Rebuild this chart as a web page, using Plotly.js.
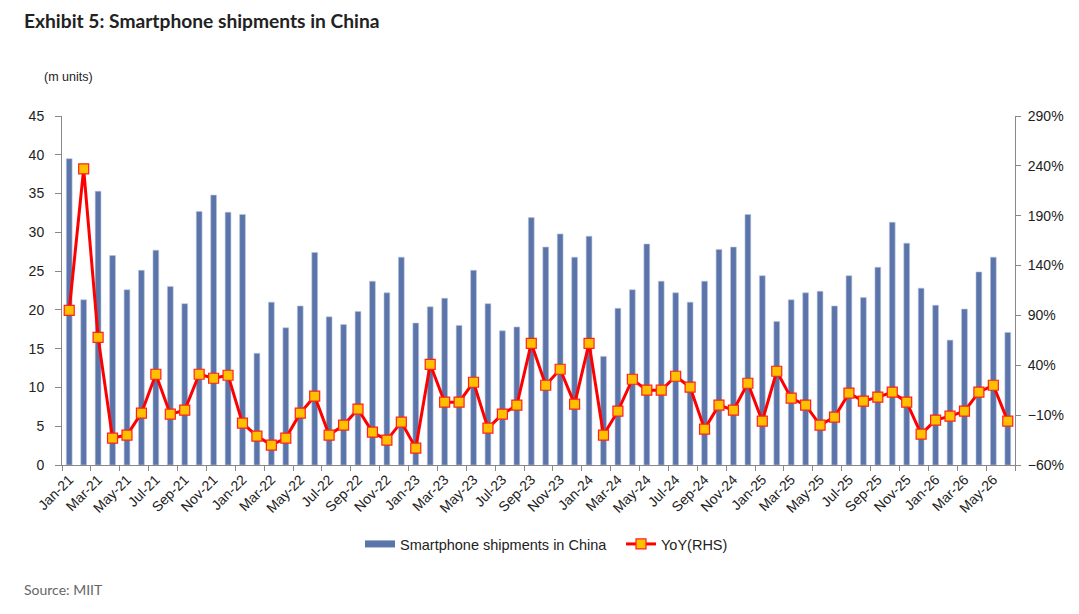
<!DOCTYPE html>
<html>
<head>
<meta charset="utf-8">
<script src="https://cdn.plot.ly/plotly-3.0.1.min.js"></script>
<style>
html,body{margin:0;padding:0;background:#fff;}
#chart{width:1079px;height:614px;}
</style>
</head>
<body>
<div id="chart"></div>
<script>
const months = [
 "Jan-21","Feb-21","Mar-21","Apr-21","May-21","Jun-21","Jul-21","Aug-21","Sep-21","Oct-21","Nov-21","Dec-21",
 "Jan-22","Feb-22","Mar-22","Apr-22","May-22","Jun-22","Jul-22","Aug-22","Sep-22","Oct-22","Nov-22","Dec-22",
 "Jan-23","Feb-23","Mar-23","Apr-23","May-23","Jun-23","Jul-23","Aug-23","Sep-23","Oct-23","Nov-23","Dec-23",
 "Jan-24","Feb-24","Mar-24","Apr-24","May-24","Jun-24","Jul-24","Aug-24","Sep-24","Oct-24","Nov-24","Dec-24",
 "Jan-25","Feb-25","Mar-25","Apr-25","May-25","Jun-25","Jul-25","Aug-25","Sep-25","Oct-25","Nov-25","Dec-25",
 "Jan-26","Feb-26","Mar-26","Apr-26","May-26","Jun-26"
];
const shipments = [
 39.5,21.3,35.3,27.0,22.6,25.1,27.7,23.0,20.8,32.7,34.8,32.6,
 32.3,14.4,21.0,17.7,20.5,27.4,19.1,18.1,19.8,23.7,22.2,26.8,
 18.3,20.4,21.5,18.0,25.1,20.8,17.3,17.8,31.9,28.1,29.8,26.8,
 29.5,14.0,20.2,22.6,28.5,23.7,22.2,21.0,23.7,27.8,28.1,32.3,
 24.4,18.5,21.3,22.2,22.4,20.5,24.4,21.6,25.5,31.3,28.6,22.8,
 20.6,16.1,20.1,24.9,26.8,17.1
];
const yoy = [
 95,237,68,-33,-30,-8,31,-9,-5,31,27,30,
 -18,-31,-40,-33,-8,9,-30,-20,-4,-27,-35,-17,
 -43,41,3,3,23,-23,-9,0,62,20,36,1,
 62,-30,-6,26,15,15,29,18,-24,0,-5,22,
 -16,34,7,0,-20,-12,12,4,8,13,3,-29,
 -15,-11,-6,13,20,-16
];
const seriesNames = ["Smartphone shipments in China", "YoY(RHS)"];

const barColor = "#5b74aa";
const axisFont = {family: "Liberation Sans, Arial, sans-serif", size: 14, color: "#222"};

const traces = [
 {
  type: "bar", name: seriesNames[0], showlegend: false,
  x: months, y: shipments,
  marker: {color: barColor, line: {color: "#b8c4de", width: 0.6}},
  yaxis: "y"
 },
 {
  // legend entry for the bars (wide bar swatch)
  type: "scatter", mode: "lines", name: seriesNames[0],
  x: [null], y: [null], yaxis: "y",
  line: {color: barColor, width: 7}
 },
 {
  type: "scatter", mode: "lines+markers", name: seriesNames[1],
  x: months, y: yoy, yaxis: "y2",
  line: {color: "#ff0000", width: 3},
  marker: {symbol: "square", size: 10, color: "#ffc000", line: {color: "#ff2020", width: 1.2}}
 }
];

const H = 614 - 116 - 149;
const layout = {
 width: 1079, height: 614,
 paper_bgcolor: "#fff", plot_bgcolor: "#fff",
 margin: {l: 62, r: 64, t: 116, b: 149},
 bargap: 0.6,
 showlegend: true,
 legend: {orientation: "h", x: (360 - 62) / 953, xanchor: "left", y: (465 - 544) / H, yanchor: "middle",
   font: {family: "Liberation Sans, Arial, sans-serif", size: 14.5, color: "#222"},
   traceorder: "normal", itemwidth: 30, entrywidth: 216, entrywidthmode: "pixels"},
 xaxis: {
  type: "category", tickmode: "linear", tick0: 0, dtick: 2,
  tickson: "boundaries", ticks: "outside", ticklen: 5, tickcolor: "#888",
  tickangle: -45, tickfont: axisFont,
  showline: true, linecolor: "#888", linewidth: 1, showgrid: false,
  range: [-0.5, months.length - 0.5]
 },
 yaxis: {
  range: [0, 45], dtick: 5, tick0: 0, ticks: "outside", ticklen: 6, tickcolor: "#888",
  showline: true, linecolor: "#888", linewidth: 1, showgrid: false, zeroline: false,
  tickfont: axisFont, ticklabelstandoff: 8
 },
 yaxis2: {
  overlaying: "y", side: "right",
  range: [-60, 290], dtick: 50, tick0: -60, ticksuffix: "%",
  ticks: "outside", ticklen: 5, tickcolor: "#888",
  showline: true, linecolor: "#888", linewidth: 1, showgrid: false, zeroline: false,
  tickfont: axisFont, ticklabelstandoff: 4
 },
 annotations: [
  {text: "<b>Exhibit 5: Smartphone shipments in China</b>", xref: "paper", yref: "paper",
   x: -0.0423, y: (465 - 20) / H, xanchor: "left", yanchor: "middle", showarrow: false,
   font: {family: "Lato, 'Open Sans', sans-serif", size: 19.2, color: "#222"}},
  {text: "(m units)", xref: "paper", yref: "paper", x: -0.021, y: (465 - 77) / H,
   xanchor: "left", yanchor: "middle", showarrow: false,
   font: {family: "Liberation Sans, Arial, sans-serif", size: 12.5, color: "#222"}},
  {text: "Source: MIIT", xref: "paper", yref: "paper", x: -0.0423, y: (465 - 589) / H,
   xanchor: "left", yanchor: "middle", showarrow: false,
   font: {family: "Lato, 'Open Sans', sans-serif", size: 14, color: "#666"}}
 ]
};

Plotly.newPlot("chart", traces, layout, {displayModeBar: false, staticPlot: true});
</script>
</body>
</html>
